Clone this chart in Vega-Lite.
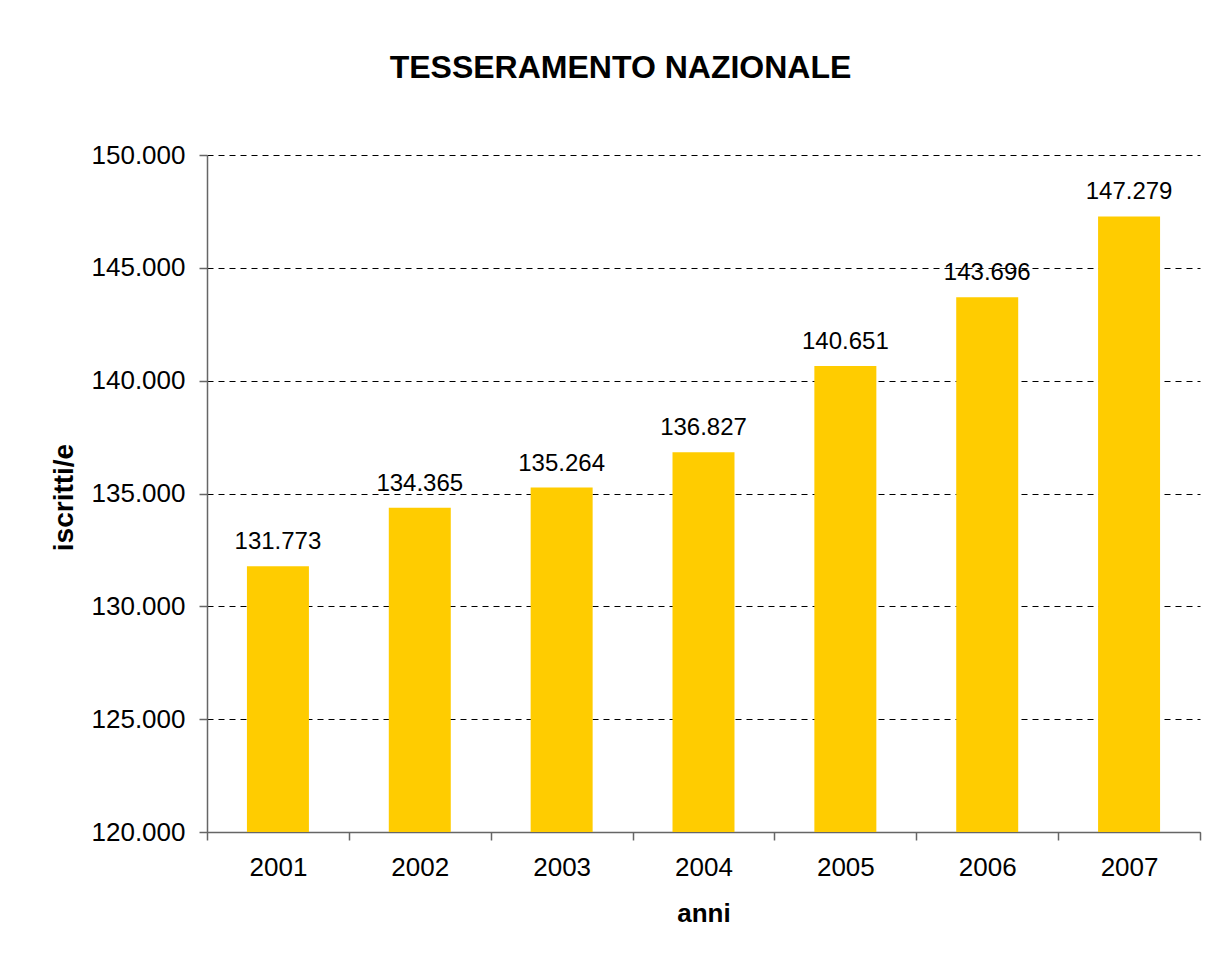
{
  "$schema": "https://vega.github.io/schema/vega-lite/v6.json",
  "autosize": "none",
  "width": 993,
  "height": 677,
  "padding": {"left": 207, "top": 155, "right": 22, "bottom": 128},
  "background": "white",
  "title": {
    "text": "TESSERAMENTO NAZIONALE",
    "font": "Liberation Sans",
    "fontSize": 32,
    "fontWeight": "bold",
    "color": "black",
    "anchor": "middle",
    "offset": 57,
    "dx": -83
  },
  "config": {
    "locale": {"number": {"decimal": ",", "thousands": ".", "grouping": [3], "currency": ["€", ""]}},
    "view": {"stroke": null},
    "font": "Liberation Sans"
  },
  "data": {
    "values": [
      {"anno": "2001", "iscritti": 131773},
      {"anno": "2002", "iscritti": 134365},
      {"anno": "2003", "iscritti": 135264},
      {"anno": "2004", "iscritti": 136827},
      {"anno": "2005", "iscritti": 140651},
      {"anno": "2006", "iscritti": 143696},
      {"anno": "2007", "iscritti": 147279}
    ]
  },
  "encoding": {
    "x": {
      "field": "anno",
      "type": "ordinal",
      "scale": {"paddingInner": 0, "paddingOuter": 0},
      "axis": {
        "title": "anni",
        "titleFont": "Liberation Sans",
        "titleFontSize": 26,
        "titleFontWeight": "bold",
        "titleColor": "black",
        "titlePadding": 20,
        "labelAngle": 0,
        "labelFont": "Liberation Sans",
        "labelFontSize": 26,
        "labelColor": "black",
        "labelPadding": 14,
        "tickBand": "extent",
        "tickSize": 8,
        "tickColor": "#666666",
        "domainColor": "#666666",
        "domainWidth": 1.5,
        "tickWidth": 1.5,
        "grid": false
      }
    },
    "y": {
      "field": "iscritti",
      "type": "quantitative",
      "scale": {"domain": [120000, 150000], "zero": false, "nice": false},
      "axis": {
        "title": "iscritti/e",
        "titleFont": "Liberation Sans",
        "titleFontSize": 28,
        "titleFontWeight": "bold",
        "titleColor": "black",
        "titlePadding": 13,
        "titleY": 342,
        "values": [120000, 125000, 130000, 135000, 140000, 145000, 150000],
        "format": ",d",
        "labelFont": "Liberation Sans",
        "labelFontSize": 26,
        "labelColor": "black",
        "labelPadding": 14,
        "tickSize": 8,
        "tickColor": "#666666",
        "tickWidth": 1.5,
        "domainColor": "#666666",
        "domainWidth": 1.5,
        "grid": true,
        "gridColor": "black",
        "gridDash": [6, 5],
        "gridWidth": 1
      }
    }
  },
  "layer": [
    {
      "mark": {"type": "bar", "color": "#FFCC00", "width": {"band": 0.437}},
      "encoding": {"y2": {"datum": 120000}}
    },
    {
      "mark": {"type": "text", "font": "Liberation Sans", "fontSize": 24, "color": "black", "baseline": "alphabetic", "dy": -17},
      "encoding": {
        "text": {"field": "iscritti", "type": "quantitative", "format": ",d"}
      }
    }
  ]
}
